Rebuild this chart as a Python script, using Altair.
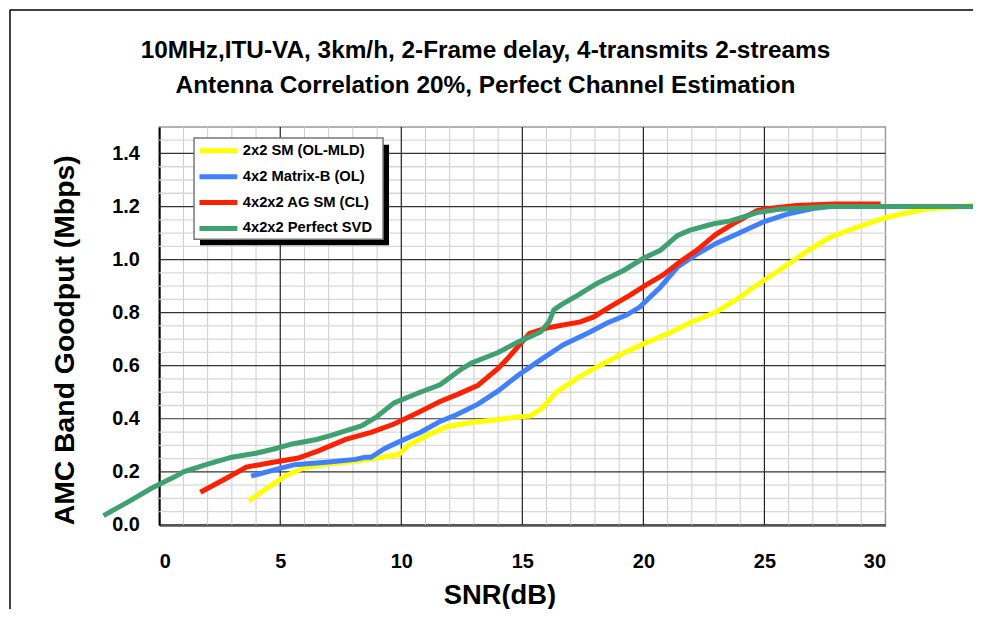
import altair as alt
import pandas as pd

# ---------------- data ----------------
series_names = ["2x2 SM (OL-MLD)", "4x2 Matrix-B (OL)", "4x2x2 AG SM (CL)", "4x2x2 Perfect SVD"]
series_colors = ["#FFFF00", "#4080FF", "#FF2000", "#3FA070"]

snr_ol_mld = [3.7, 4.4, 5.2, 6.0, 7.0, 8.1, 9.2, 9.9, 10.3, 11.0, 11.9, 12.9, 14.0, 14.8, 15.3,
              15.75, 16.4, 17.3, 18.1, 19.2, 20.1, 21.1, 21.9, 23.0, 23.8, 24.8, 25.8, 26.7,
              27.7, 28.8, 29.9, 30.7, 31.8, 33.2, 33.75]
gp_ol_mld = [0.09, 0.135, 0.184, 0.216, 0.229, 0.24, 0.255, 0.266, 0.30, 0.334, 0.371, 0.386,
             0.397, 0.407, 0.41, 0.435, 0.499, 0.555, 0.596, 0.649, 0.686, 0.724, 0.761, 0.802,
             0.847, 0.911, 0.971, 1.028, 1.084, 1.121, 1.155, 1.173, 1.192, 1.20, 1.205]

snr_matrix_b = [3.8, 5.06, 5.6, 7.0, 8.1, 8.5, 8.75, 9.3, 9.86, 10.8, 11.6, 12.3, 13.15, 14.0,
                14.8, 15.75, 16.7, 17.8, 18.5, 19.3, 19.85, 20.7, 21.4, 22.2, 23.0, 23.96,
                24.9, 26.0, 27.0, 27.7, 30.0]
gp_matrix_b = [0.184, 0.215, 0.227, 0.237, 0.247, 0.255, 0.255, 0.287, 0.311, 0.349, 0.39, 0.416,
               0.454, 0.505, 0.562, 0.622, 0.679, 0.727, 0.761, 0.791, 0.821, 0.896, 0.971,
               1.02, 1.061, 1.10, 1.14, 1.173, 1.192, 1.20, 1.20]

snr_ag_sm = [1.7, 2.7, 3.6, 4.65, 5.75, 6.6, 7.7, 8.75, 9.7, 10.7, 11.6, 12.3, 13.15, 14.0, 14.4,
             14.8, 15.3, 16.0, 17.4, 17.95, 18.6, 19.45, 20.1, 20.8, 21.6, 22.2, 23.0, 23.8,
             24.7, 25.1, 26.3, 27.9, 29.8]
gp_ag_sm = [0.123, 0.172, 0.218, 0.235, 0.252, 0.28, 0.322, 0.349, 0.38, 0.424, 0.465, 0.491,
            0.525, 0.59, 0.628, 0.67, 0.722, 0.742, 0.765, 0.784, 0.821, 0.866, 0.904, 0.941,
            0.997, 1.035, 1.095, 1.14, 1.185, 1.192, 1.204, 1.21, 1.21]

snr_svd = [-2.3, -1.3, -0.3, 0.7, 1.0, 2.0, 3.0, 4.0, 4.7, 5.5, 6.5, 7.1, 8.35, 8.95, 9.7, 10.7,
           11.6, 12.45, 12.9, 14.0, 14.8, 15.75, 16.1, 16.3, 16.6, 17.3, 18.1, 19.2, 20.0, 20.7,
           21.4, 21.9, 22.9, 23.6, 24.7, 25.6, 27.7, 33.75]
gp_svd = [0.035, 0.086, 0.139, 0.184, 0.20, 0.229, 0.255, 0.27, 0.285, 0.305, 0.322, 0.337,
          0.373, 0.405, 0.46, 0.497, 0.528, 0.585, 0.61, 0.65, 0.688, 0.727, 0.765, 0.81, 0.829,
          0.866, 0.911, 0.96, 1.005, 1.035, 1.09, 1.11, 1.135, 1.146, 1.177, 1.19, 1.20, 1.20]

x_ticks = [0, 5, 10, 15, 20, 25, 30]
y_ticks = [0.0, 0.2, 0.4, 0.6, 0.8, 1.0, 1.2, 1.4]
x_minor = [v for v in range(1, 30) if v % 5 != 0]
y_minor = [round(0.05 * i, 2) for i in range(1, 30) if i % 4 != 0]
x_major = [5, 10, 15, 20, 25]
y_major = [0.2, 0.4, 0.6, 0.8, 1.0, 1.2, 1.4]

# ---------------- build ----------------
FONT = "Liberation Sans"
all_x = [snr_ol_mld, snr_matrix_b, snr_ag_sm, snr_svd]
all_y = [gp_ol_mld, gp_matrix_b, gp_ag_sm, gp_svd]
frames = []
for name, xs, ys in zip(series_names, all_x, all_y):
    frames.append(pd.DataFrame({"snr": xs, "gp": ys, "series": name}))
df = pd.concat(frames, ignore_index=True)

xscale = alt.Scale(domain=[0, 30], nice=False, zero=False)
yscale = alt.Scale(domain=[0, 1.5], nice=False, zero=False)

x_axis = alt.Axis(values=x_ticks, title="SNR(dB)", grid=False, ticks=False,
                  labelFont=FONT, labelFontSize=20, labelFontWeight="bold", labelColor="black",
                  labelPadding=27, domainColor="#555555", domainWidth=3,
                  titleFont=FONT, titleFontSize=27.5, titleFontWeight="bold", titleColor="black",
                  titleX=342, titleY=71, titleAlign="center", titleBaseline="middle")
y_axis = alt.Axis(values=y_ticks, format=".1f", title="AMC Band Goodput (Mbps)", grid=False,
                  ticks=False, labelFont=FONT, labelFontSize=20, labelFontWeight="bold",
                  labelColor="black", labelPadding=20, domainColor="black", domainWidth=2,
                  titleFont=FONT, titleFontSize=28.5, titleFontWeight="bold", titleColor="black",
                  titleX=-95, titleY=214, titleAngle=-90, titleAlign="center",
                  titleBaseline="middle")

X = alt.X("snr:Q", scale=xscale, axis=x_axis)
Y = alt.Y("gp:Q", scale=yscale, axis=y_axis)

minor_v = alt.Chart(pd.DataFrame({"snr": x_minor})).mark_rule(color="#cccccc", strokeWidth=1).encode(x=X)
minor_h = alt.Chart(pd.DataFrame({"gp": y_minor})).mark_rule(color="#d8d8d8", strokeWidth=1.3).encode(y=Y)
major_v = alt.Chart(pd.DataFrame({"snr": x_major})).mark_rule(color="#222222", strokeWidth=1.2).encode(x=X)
major_h = alt.Chart(pd.DataFrame({"gp": y_major})).mark_rule(color="#333333", strokeWidth=1.2).encode(y=Y)

one = pd.DataFrame({"a": [0]})
shadow = alt.Chart(one).mark_rect(color="black").encode(
    x=alt.value(41), x2=alt.value(231), y=alt.value(18), y2=alt.value(119))
legend_box = alt.Chart(one).mark_rect(fill="white", stroke="#777777", strokeWidth=1.5).encode(
    x=alt.value(35), x2=alt.value(225), y=alt.value(11), y2=alt.value(113))
frame_top = alt.Chart(one).mark_rule(color="black", strokeWidth=1.5).encode(
    x=alt.value(-150), x2=alt.value(830), y=alt.value(-117.5))
frame_left = alt.Chart(one).mark_rule(color="black", strokeWidth=1.5).encode(
    x=alt.value(-150), y=alt.value(-117.5), y2=alt.value(500))

color = alt.Color("series:N",
                  scale=alt.Scale(domain=series_names, range=series_colors),
                  legend=alt.Legend(title=None, orient="none", legendX=38, legendY=11,
                                    symbolType="stroke", symbolSize=1444, symbolStrokeWidth=5,
                                    clipHeight=26,
                                    labelFont=FONT, labelFontSize=14.8, labelFontWeight="bold",
                                    labelColor="black", labelOffset=3, rowPadding=0,
                                    padding=0, labelLimit=300))

line_layers = []
for name in series_names:
    line_layers.append(
        alt.Chart(df).transform_filter(alt.datum.series == name)
        .mark_line(strokeWidth=5, clip=False)
        .encode(x=X, y=Y, color=color)
    )

chart = alt.layer(minor_v, minor_h, major_v, major_h, frame_top, frame_left, shadow, legend_box,
                  *line_layers).properties(
    width=730, height=400,
    title=alt.TitleParams(
        ["10MHz,ITU-VA, 3km/h, 2-Frame delay, 4-transmits 2-streams",
         "Antenna Correlation 20%, Perfect Channel Estimation"],
        font=FONT, fontSize=24.5, fontWeight="bold", color="black", lineHeight=36,
        anchor="middle", dx=-37, offset=-90),
    autosize=alt.AutoSizeParams(type="none"),
    padding={"left": 152, "top": 118, "right": 88, "bottom": 83},
).configure_view(stroke="#999999", strokeWidth=1.5)

chart.save("out.html", embed_options={"renderer": "svg", "actions": False})
